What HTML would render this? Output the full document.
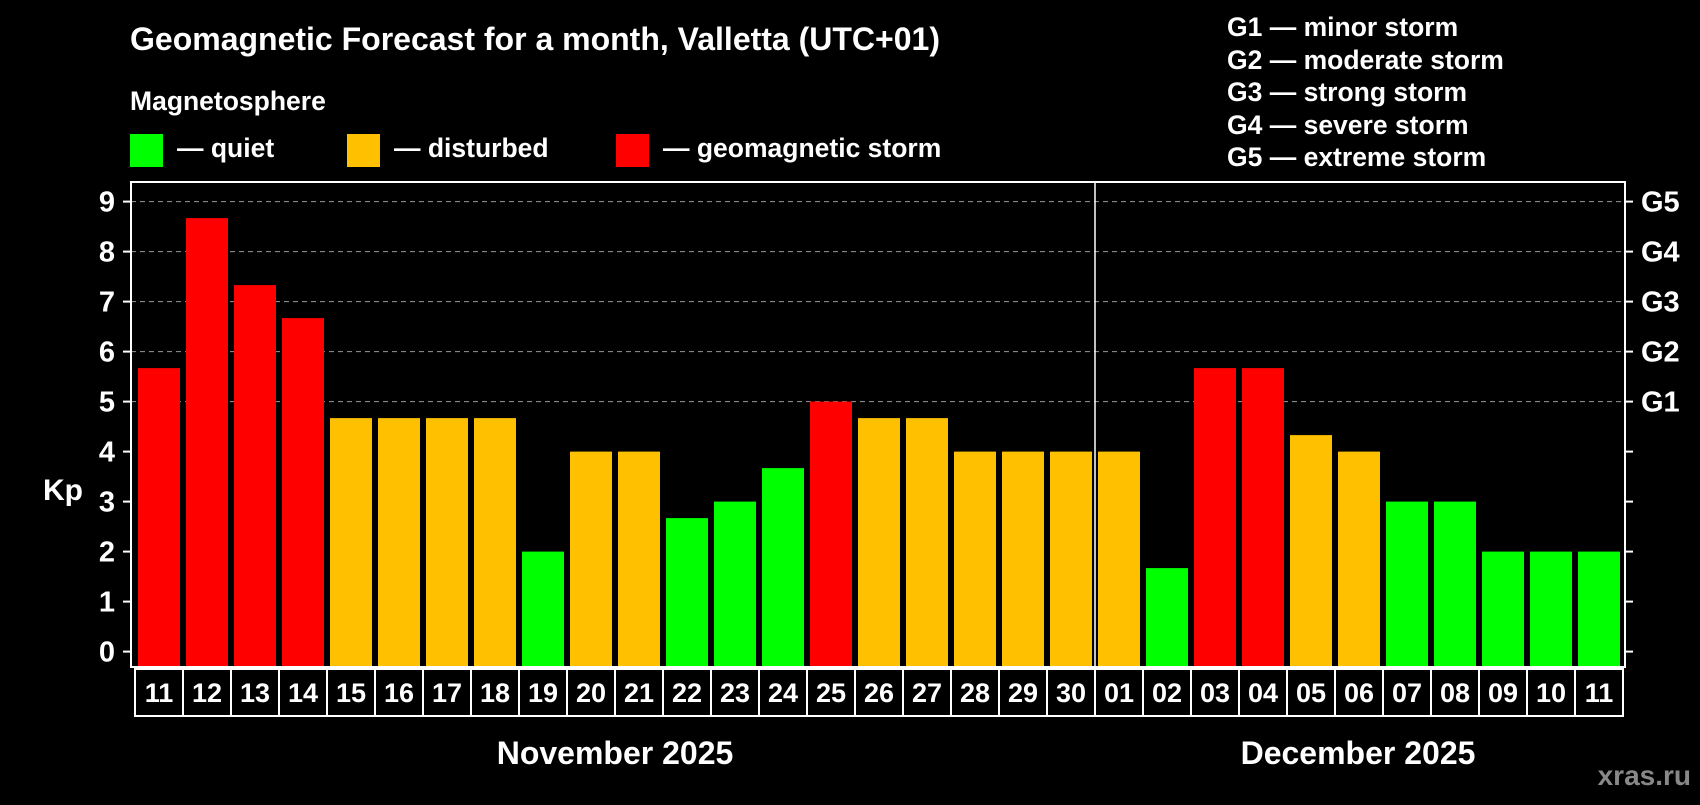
<!DOCTYPE html>
<html><head><meta charset="utf-8"><style>
body{margin:0;background:#000;width:1700px;height:800px;overflow:hidden;font-family:"Liberation Sans",Arial,sans-serif;font-weight:bold;color:#fff}
</style></head><body>
<svg id="c" width="1700" height="800" xmlns="http://www.w3.org/2000/svg" font-family="Liberation Sans, Arial, sans-serif" font-weight="bold">
<rect width="1700" height="800" fill="#000"/>
<text x="130" y="50" font-size="32" fill="#fff">Geomagnetic Forecast for a month, Valletta (UTC+01)</text>
<text x="130" y="110" font-size="26.5" fill="#fff">Magnetosphere</text>
<g><rect x="130" y="134" width="33" height="33" fill="#00ff00"/><text x="177" y="157" font-size="26.5" fill="#fff">— quiet</text></g>
<g><rect x="347" y="134" width="33" height="33" fill="#ffc000"/><text x="394" y="157" font-size="26.5" fill="#fff">— disturbed</text></g>
<g><rect x="616" y="134" width="33" height="33" fill="#ff0000"/><text x="663" y="157" font-size="26.5" fill="#fff">— geomagnetic storm</text></g>
<g font-size="26.5" fill="#fff">
<text x="1227" y="36">G1 — minor storm</text>
<text x="1227" y="69">G2 — moderate storm</text>
<text x="1227" y="101">G3 — strong storm</text>
<text x="1227" y="134">G4 — severe storm</text>
<text x="1227" y="166">G5 — extreme storm</text>
</g>
<text x="43" y="500" font-size="30" fill="#fff">Kp</text>
<g id="plot"></g>
<text x="615" y="764" font-size="32" fill="#fff" text-anchor="middle">November 2025</text>
<text x="1358" y="764" font-size="32" fill="#fff" text-anchor="middle">December 2025</text>
<text x="1691" y="785" font-size="28" fill="#888" text-anchor="end">xras.ru</text>
</svg>
<script>
const days=["11","12","13","14","15","16","17","18","19","20","21","22","23","24","25","26","27","28","29","30","01","02","03","04","05","06","07","08","09","10","11"];
const kp=[5.67,8.67,7.33,6.67,4.67,4.67,4.67,4.67,2,4,4,2.67,3,3.67,5,4.67,4.67,4,4,4,4,1.67,5.67,5.67,4.33,4,3,3,2,2,2];
const yTicks=[0,1,2,3,4,5,6,7,8,9];
const gLabels=["G1","G2","G3","G4","G5"];
const gLevels=[5,6,7,8,9];
const NS="http://www.w3.org/2000/svg";
const g=document.getElementById('plot');
const L=131,R=1625,T=182,B=667,Y0=651.6,UNIT=50,X0=138,PITCH=48,BW=42;
const y=v=>Y0-v*UNIT;
const x=i=>X0+i*PITCH;
function mk(t,a){const e=document.createElementNS(NS,t);for(const k in a)e.setAttribute(k,a[k]);g.appendChild(e);return e;}
function col(v){return v>=5?"#ff0000":(v>=4?"#ffc000":"#00ff00");}
gLevels.forEach(v=>{const e=mk('line',{x1:L,x2:R,y1:y(v),y2:y(v),stroke:"#999","stroke-dasharray":"5,4","stroke-width":1});

});
kp.forEach((v,i)=>{const e=mk('rect',{x:x(i),y:y(v),width:BW,height:B-y(v),fill:col(v)});

});
mk('rect',{x:L,y:T,width:R-L,height:B-T,fill:"none",stroke:"#fff","stroke-width":2});
const dx=x(20)-3;
const dv=mk('line',{x1:dx,x2:dx,y1:T,y2:B,stroke:"#fff","stroke-width":1.5});


yTicks.forEach(v=>{mk('line',{x1:L-8,x2:L,y1:y(v),y2:y(v),stroke:"#fff","stroke-width":2});
mk('line',{x1:R,x2:R+8,y1:y(v),y2:y(v),stroke:"#fff","stroke-width":2});
const t=mk('text',{x:115,y:y(v)+10,"font-size":29,fill:"#fff","text-anchor":"end"});t.textContent=v;

});
gLabels.forEach((s,i)=>{const t=mk('text',{x:1641,y:y(gLevels[i])+10,"font-size":29,fill:"#fff"});t.textContent=s;

});
days.forEach((d,i)=>{const bx=135+i*PITCH;
mk('rect',{x:bx,y:669,width:PITCH,height:47,fill:"none",stroke:"#fff","stroke-width":2});
const t=mk('text',{x:bx+PITCH/2,y:702,"font-size":27,fill:"#fff","text-anchor":"middle"});t.textContent=d;

});
</script>
</body></html>
